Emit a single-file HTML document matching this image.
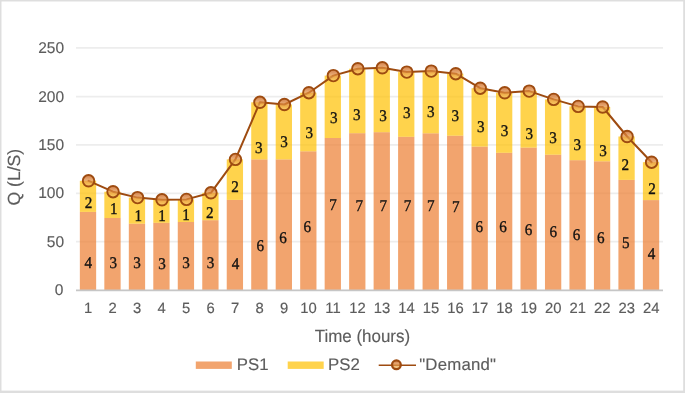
<!DOCTYPE html>
<html lang="en"><head><meta charset="utf-8"><title>Chart</title>
<style>html,body{margin:0;padding:0;background:#fff}body{width:685px;height:393px;overflow:hidden}svg{display:block}text{text-rendering:geometricPrecision}.t{font-family:"Liberation Sans",Arial,sans-serif;fill:#5c5c5c;stroke:#5c5c5c;stroke-width:0.15px}.s{font-family:"Liberation Serif","Times New Roman",serif;fill:#111;font-size:16.3px;text-anchor:middle;stroke:#111;stroke-width:0.35px}</style></head><body>
<svg width="685" height="393" viewBox="0 0 685 393">
<defs><linearGradient id="mg" x1="0" y1="0" x2="0" y2="1"><stop offset="0" stop-color="#c8662a" stop-opacity="0.85"/><stop offset="0.45" stop-color="#e08a3c" stop-opacity="0.7"/><stop offset="1" stop-color="#fbd070" stop-opacity="0.75"/></linearGradient></defs>
<rect x="0" y="0" width="685" height="393" fill="#dedede"/>
<rect x="1.5" y="1.5" width="681.7" height="389.1" fill="#ffffff"/>
<line x1="76" y1="47.9" x2="663" y2="47.9" stroke="#ededed" stroke-width="1.7"/>
<line x1="76" y1="96.6" x2="663" y2="96.6" stroke="#ededed" stroke-width="1.7"/>
<line x1="76" y1="144.8" x2="663" y2="144.8" stroke="#ededed" stroke-width="1.7"/>
<line x1="76" y1="193.4" x2="663" y2="193.4" stroke="#ededed" stroke-width="1.7"/>
<line x1="76" y1="241.7" x2="663" y2="241.7" stroke="#ededed" stroke-width="1.7"/>
<rect x="79.85" y="211.9" width="16.3" height="78.5" fill="#ed7d31" fill-opacity="0.7"/>
<rect x="79.85" y="180.8" width="16.3" height="31.1" fill="#ffc000" fill-opacity="0.7"/>
<rect x="104.33" y="218.0" width="16.3" height="72.4" fill="#ed7d31" fill-opacity="0.7"/>
<rect x="104.33" y="191.7" width="16.3" height="26.3" fill="#ffc000" fill-opacity="0.7"/>
<rect x="128.81" y="223.7" width="16.3" height="66.7" fill="#ed7d31" fill-opacity="0.7"/>
<rect x="128.81" y="197.6" width="16.3" height="26.1" fill="#ffc000" fill-opacity="0.7"/>
<rect x="153.29" y="222.8" width="16.3" height="67.6" fill="#ed7d31" fill-opacity="0.7"/>
<rect x="153.29" y="199.8" width="16.3" height="23.0" fill="#ffc000" fill-opacity="0.7"/>
<rect x="177.77" y="222.0" width="16.3" height="68.4" fill="#ed7d31" fill-opacity="0.7"/>
<rect x="177.77" y="199.4" width="16.3" height="22.6" fill="#ffc000" fill-opacity="0.7"/>
<rect x="202.25" y="220.2" width="16.3" height="70.2" fill="#ed7d31" fill-opacity="0.7"/>
<rect x="202.25" y="192.8" width="16.3" height="27.4" fill="#ffc000" fill-opacity="0.7"/>
<rect x="226.73" y="199.9" width="16.3" height="90.5" fill="#ed7d31" fill-opacity="0.7"/>
<rect x="226.73" y="159.4" width="16.3" height="40.5" fill="#ffc000" fill-opacity="0.7"/>
<rect x="251.21" y="159.4" width="16.3" height="131.0" fill="#ed7d31" fill-opacity="0.7"/>
<rect x="251.21" y="102.3" width="16.3" height="57.1" fill="#ffc000" fill-opacity="0.7"/>
<rect x="275.69" y="159.4" width="16.3" height="131.0" fill="#ed7d31" fill-opacity="0.7"/>
<rect x="275.69" y="104.5" width="16.3" height="54.9" fill="#ffc000" fill-opacity="0.7"/>
<rect x="300.17" y="151.3" width="16.3" height="139.1" fill="#ed7d31" fill-opacity="0.7"/>
<rect x="300.17" y="92.7" width="16.3" height="58.6" fill="#ffc000" fill-opacity="0.7"/>
<rect x="324.65" y="138.0" width="16.3" height="152.4" fill="#ed7d31" fill-opacity="0.7"/>
<rect x="324.65" y="75.6" width="16.3" height="62.4" fill="#ffc000" fill-opacity="0.7"/>
<rect x="349.13" y="133.2" width="16.3" height="157.2" fill="#ed7d31" fill-opacity="0.7"/>
<rect x="349.13" y="68.7" width="16.3" height="64.5" fill="#ffc000" fill-opacity="0.7"/>
<rect x="373.61" y="132.2" width="16.3" height="158.2" fill="#ed7d31" fill-opacity="0.7"/>
<rect x="373.61" y="67.8" width="16.3" height="64.4" fill="#ffc000" fill-opacity="0.7"/>
<rect x="398.09" y="136.8" width="16.3" height="153.6" fill="#ed7d31" fill-opacity="0.7"/>
<rect x="398.09" y="72.1" width="16.3" height="64.7" fill="#ffc000" fill-opacity="0.7"/>
<rect x="422.57" y="133.3" width="16.3" height="157.1" fill="#ed7d31" fill-opacity="0.7"/>
<rect x="422.57" y="71.1" width="16.3" height="62.2" fill="#ffc000" fill-opacity="0.7"/>
<rect x="447.05" y="135.7" width="16.3" height="154.7" fill="#ed7d31" fill-opacity="0.7"/>
<rect x="447.05" y="73.7" width="16.3" height="62.0" fill="#ffc000" fill-opacity="0.7"/>
<rect x="471.53" y="146.6" width="16.3" height="143.8" fill="#ed7d31" fill-opacity="0.7"/>
<rect x="471.53" y="88.2" width="16.3" height="58.4" fill="#ffc000" fill-opacity="0.7"/>
<rect x="496.01" y="152.8" width="16.3" height="137.6" fill="#ed7d31" fill-opacity="0.7"/>
<rect x="496.01" y="92.8" width="16.3" height="60.0" fill="#ffc000" fill-opacity="0.7"/>
<rect x="520.49" y="147.6" width="16.3" height="142.8" fill="#ed7d31" fill-opacity="0.7"/>
<rect x="520.49" y="91.1" width="16.3" height="56.5" fill="#ffc000" fill-opacity="0.7"/>
<rect x="544.97" y="154.7" width="16.3" height="135.7" fill="#ed7d31" fill-opacity="0.7"/>
<rect x="544.97" y="99.4" width="16.3" height="55.3" fill="#ffc000" fill-opacity="0.7"/>
<rect x="569.45" y="160.2" width="16.3" height="130.2" fill="#ed7d31" fill-opacity="0.7"/>
<rect x="569.45" y="106.4" width="16.3" height="53.8" fill="#ffc000" fill-opacity="0.7"/>
<rect x="593.93" y="161.3" width="16.3" height="129.1" fill="#ed7d31" fill-opacity="0.7"/>
<rect x="593.93" y="107.0" width="16.3" height="54.3" fill="#ffc000" fill-opacity="0.7"/>
<rect x="618.41" y="179.9" width="16.3" height="110.5" fill="#ed7d31" fill-opacity="0.7"/>
<rect x="618.41" y="136.5" width="16.3" height="43.4" fill="#ffc000" fill-opacity="0.7"/>
<rect x="642.89" y="200.1" width="16.3" height="90.3" fill="#ed7d31" fill-opacity="0.7"/>
<rect x="642.89" y="162.2" width="16.3" height="37.9" fill="#ffc000" fill-opacity="0.7"/>
<line x1="76" y1="290.35" x2="663" y2="290.35" stroke="#c6c6c6" stroke-width="1.6"/>
<text class="s" transform="translate(88.6,207.90) scale(0.93,1)">2</text>
<text class="s" transform="translate(113.8,214.10) scale(0.93,1)">1</text>
<text class="s" transform="translate(138.3,221.30) scale(0.93,1)">1</text>
<text class="s" transform="translate(162.0,221.30) scale(0.93,1)">1</text>
<text class="s" transform="translate(186.0,219.50) scale(0.93,1)">1</text>
<text class="s" transform="translate(209.7,218.40) scale(0.93,1)">2</text>
<text class="s" transform="translate(235.1,191.60) scale(0.93,1)">2</text>
<text class="s" transform="translate(258.8,152.80) scale(0.93,1)">3</text>
<text class="s" transform="translate(284.0,147.30) scale(0.93,1)">3</text>
<text class="s" transform="translate(309.2,137.50) scale(0.93,1)">3</text>
<text class="s" transform="translate(333.9,122.70) scale(0.93,1)">3</text>
<text class="s" transform="translate(356.9,120.10) scale(0.93,1)">3</text>
<text class="s" transform="translate(383.1,121.40) scale(0.93,1)">3</text>
<text class="s" transform="translate(406.8,117.70) scale(0.93,1)">3</text>
<text class="s" transform="translate(430.9,116.60) scale(0.93,1)">3</text>
<text class="s" transform="translate(455.4,121.40) scale(0.93,1)">3</text>
<text class="s" transform="translate(480.7,132.40) scale(0.93,1)">3</text>
<text class="s" transform="translate(504.5,135.80) scale(0.93,1)">3</text>
<text class="s" transform="translate(529.2,138.80) scale(0.93,1)">3</text>
<text class="s" transform="translate(553.1,143.20) scale(0.93,1)">3</text>
<text class="s" transform="translate(577.2,149.80) scale(0.93,1)">3</text>
<text class="s" transform="translate(603.0,155.80) scale(0.93,1)">3</text>
<text class="s" transform="translate(625.3,170.00) scale(0.93,1)">2</text>
<text class="s" transform="translate(652.1,193.60) scale(0.93,1)">2</text>
<text class="s" transform="translate(88.4,268.10) scale(0.93,1)">4</text>
<text class="s" transform="translate(113.3,268.40) scale(0.93,1)">3</text>
<text class="s" transform="translate(137.0,268.40) scale(0.93,1)">3</text>
<text class="s" transform="translate(162.0,269.00) scale(0.93,1)">3</text>
<text class="s" transform="translate(186.1,268.20) scale(0.93,1)">3</text>
<text class="s" transform="translate(210.5,267.60) scale(0.93,1)">3</text>
<text class="s" transform="translate(235.6,269.30) scale(0.93,1)">4</text>
<text class="s" transform="translate(260.2,250.50) scale(0.93,1)">6</text>
<text class="s" transform="translate(283.1,243.40) scale(0.93,1)">6</text>
<text class="s" transform="translate(307.2,232.10) scale(0.93,1)">6</text>
<text class="s" transform="translate(333.0,209.80) scale(0.93,1)">7</text>
<text class="s" transform="translate(359.3,210.60) scale(0.93,1)">7</text>
<text class="s" transform="translate(383.4,210.60) scale(0.93,1)">7</text>
<text class="s" transform="translate(407.6,210.60) scale(0.93,1)">7</text>
<text class="s" transform="translate(430.7,210.60) scale(0.93,1)">7</text>
<text class="s" transform="translate(455.7,211.90) scale(0.93,1)">7</text>
<text class="s" transform="translate(479.3,231.60) scale(0.93,1)">6</text>
<text class="s" transform="translate(503.0,232.40) scale(0.93,1)">6</text>
<text class="s" transform="translate(528.5,235.10) scale(0.93,1)">6</text>
<text class="s" transform="translate(553.2,237.10) scale(0.93,1)">6</text>
<text class="s" transform="translate(576.5,239.50) scale(0.93,1)">6</text>
<text class="s" transform="translate(600.9,242.90) scale(0.93,1)">6</text>
<text class="s" transform="translate(625.9,248.10) scale(0.93,1)">5</text>
<text class="s" transform="translate(651.6,259.20) scale(0.93,1)">4</text>
<path d="M88.55,180.80 C88.55,180.80 113.03,191.70 113.03,191.70 C113.03,191.70 137.51,197.60 137.51,197.60 C137.51,197.60 161.99,199.80 161.99,199.80 C161.99,199.80 186.47,199.40 186.47,199.40 C186.47,199.40 210.95,192.80 210.95,192.80 C210.95,192.80 235.43,159.40 235.43,159.40 C235.43,159.40 259.91,102.30 259.91,102.30 C259.91,102.30 284.39,104.50 284.39,104.50 C284.39,104.50 308.87,92.70 308.87,92.70 C308.87,92.70 333.35,75.60 333.35,75.60 C333.35,75.60 357.83,68.70 357.83,68.70 C357.83,68.70 382.31,67.80 382.31,67.80 C382.31,67.80 406.79,72.10 406.79,72.10 C406.79,72.10 431.27,71.10 431.27,71.10 C431.27,71.10 455.75,73.70 455.75,73.70 C455.75,73.70 480.23,88.20 480.23,88.20 C480.23,88.20 504.71,92.80 504.71,92.80 C504.71,92.80 529.19,91.10 529.19,91.10 C529.19,91.10 553.67,99.40 553.67,99.40 C553.67,99.40 578.15,106.40 578.15,106.40 C578.15,106.40 602.63,107.00 602.63,107.00 C602.63,107.00 627.11,136.50 627.11,136.50 C627.11,136.50 651.59,162.20 651.59,162.20" fill="none" stroke="#9e4b10" stroke-width="2.0" stroke-linecap="round" stroke-linejoin="round"/>
<circle cx="88.55" cy="180.80" r="5.75" fill="url(#mg)" stroke="#9e4b10" stroke-width="1.9"/>
<circle cx="113.03" cy="191.70" r="5.75" fill="url(#mg)" stroke="#9e4b10" stroke-width="1.9"/>
<circle cx="137.51" cy="197.60" r="5.75" fill="url(#mg)" stroke="#9e4b10" stroke-width="1.9"/>
<circle cx="161.99" cy="199.80" r="5.75" fill="url(#mg)" stroke="#9e4b10" stroke-width="1.9"/>
<circle cx="186.47" cy="199.40" r="5.75" fill="url(#mg)" stroke="#9e4b10" stroke-width="1.9"/>
<circle cx="210.95" cy="192.80" r="5.75" fill="url(#mg)" stroke="#9e4b10" stroke-width="1.9"/>
<circle cx="235.43" cy="159.40" r="5.75" fill="url(#mg)" stroke="#9e4b10" stroke-width="1.9"/>
<circle cx="259.91" cy="102.30" r="5.75" fill="url(#mg)" stroke="#9e4b10" stroke-width="1.9"/>
<circle cx="284.39" cy="104.50" r="5.75" fill="url(#mg)" stroke="#9e4b10" stroke-width="1.9"/>
<circle cx="308.87" cy="92.70" r="5.75" fill="url(#mg)" stroke="#9e4b10" stroke-width="1.9"/>
<circle cx="333.35" cy="75.60" r="5.75" fill="url(#mg)" stroke="#9e4b10" stroke-width="1.9"/>
<circle cx="357.83" cy="68.70" r="5.75" fill="url(#mg)" stroke="#9e4b10" stroke-width="1.9"/>
<circle cx="382.31" cy="67.80" r="5.75" fill="url(#mg)" stroke="#9e4b10" stroke-width="1.9"/>
<circle cx="406.79" cy="72.10" r="5.75" fill="url(#mg)" stroke="#9e4b10" stroke-width="1.9"/>
<circle cx="431.27" cy="71.10" r="5.75" fill="url(#mg)" stroke="#9e4b10" stroke-width="1.9"/>
<circle cx="455.75" cy="73.70" r="5.75" fill="url(#mg)" stroke="#9e4b10" stroke-width="1.9"/>
<circle cx="480.23" cy="88.20" r="5.75" fill="url(#mg)" stroke="#9e4b10" stroke-width="1.9"/>
<circle cx="504.71" cy="92.80" r="5.75" fill="url(#mg)" stroke="#9e4b10" stroke-width="1.9"/>
<circle cx="529.19" cy="91.10" r="5.75" fill="url(#mg)" stroke="#9e4b10" stroke-width="1.9"/>
<circle cx="553.67" cy="99.40" r="5.75" fill="url(#mg)" stroke="#9e4b10" stroke-width="1.9"/>
<circle cx="578.15" cy="106.40" r="5.75" fill="url(#mg)" stroke="#9e4b10" stroke-width="1.9"/>
<circle cx="602.63" cy="107.00" r="5.75" fill="url(#mg)" stroke="#9e4b10" stroke-width="1.9"/>
<circle cx="627.11" cy="136.50" r="5.75" fill="url(#mg)" stroke="#9e4b10" stroke-width="1.9"/>
<circle cx="651.59" cy="162.20" r="5.75" fill="url(#mg)" stroke="#9e4b10" stroke-width="1.9"/>
<text class="t" x="64.1" y="52.90" font-size="15.5" text-anchor="end">250</text>
<text class="t" x="64.1" y="101.50" font-size="15.5" text-anchor="end">200</text>
<text class="t" x="64.1" y="149.80" font-size="15.5" text-anchor="end">150</text>
<text class="t" x="64.1" y="198.30" font-size="15.5" text-anchor="end">100</text>
<text class="t" x="64.1" y="246.70" font-size="15.5" text-anchor="end">50</text>
<text class="t" x="63.3" y="295.10" font-size="15.5" text-anchor="end">0</text>
<text class="t" x="88.2" y="312.8" font-size="14.8" text-anchor="middle">1</text>
<text class="t" x="112.7" y="312.8" font-size="14.8" text-anchor="middle">2</text>
<text class="t" x="137.2" y="312.8" font-size="14.8" text-anchor="middle">3</text>
<text class="t" x="161.6" y="312.8" font-size="14.8" text-anchor="middle">4</text>
<text class="t" x="186.1" y="312.8" font-size="14.8" text-anchor="middle">5</text>
<text class="t" x="210.6" y="312.8" font-size="14.8" text-anchor="middle">6</text>
<text class="t" x="235.1" y="312.8" font-size="14.8" text-anchor="middle">7</text>
<text class="t" x="259.6" y="312.8" font-size="14.8" text-anchor="middle">8</text>
<text class="t" x="284.0" y="312.8" font-size="14.8" text-anchor="middle">9</text>
<text class="t" x="308.5" y="312.8" font-size="14.8" text-anchor="middle">10</text>
<text class="t" x="333.0" y="312.8" font-size="14.8" text-anchor="middle">11</text>
<text class="t" x="357.5" y="312.8" font-size="14.8" text-anchor="middle">12</text>
<text class="t" x="382.0" y="312.8" font-size="14.8" text-anchor="middle">13</text>
<text class="t" x="406.4" y="312.8" font-size="14.8" text-anchor="middle">14</text>
<text class="t" x="430.9" y="312.8" font-size="14.8" text-anchor="middle">15</text>
<text class="t" x="455.4" y="312.8" font-size="14.8" text-anchor="middle">16</text>
<text class="t" x="479.9" y="312.8" font-size="14.8" text-anchor="middle">17</text>
<text class="t" x="504.4" y="312.8" font-size="14.8" text-anchor="middle">18</text>
<text class="t" x="528.8" y="312.8" font-size="14.8" text-anchor="middle">19</text>
<text class="t" x="553.3" y="312.8" font-size="14.8" text-anchor="middle">20</text>
<text class="t" x="577.8" y="312.8" font-size="14.8" text-anchor="middle">21</text>
<text class="t" x="602.3" y="312.8" font-size="14.8" text-anchor="middle">22</text>
<text class="t" x="626.8" y="312.8" font-size="14.8" text-anchor="middle">23</text>
<text class="t" x="651.2" y="312.8" font-size="14.8" text-anchor="middle">24</text>
<text class="t" transform="translate(362.4,341.5) scale(0.963,1)" font-size="17.6" text-anchor="middle">Time (hours)</text>
<text class="t" transform="translate(19.8,177.2) rotate(-90)" font-size="17.6" text-anchor="middle">Q (L/S)</text>
<rect x="195.8" y="361.5" width="36" height="7.4" fill="#ed7d31" fill-opacity="0.7"/>
<text class="t" x="236.8" y="370.3" font-size="16.8">PS1</text>
<rect x="287.7" y="361.5" width="36" height="7.4" fill="#ffc000" fill-opacity="0.7"/>
<text class="t" x="328" y="370.3" font-size="16.8">PS2</text>
<line x1="378.7" y1="365.2" x2="416" y2="365.2" stroke="#9e4b10" stroke-width="1.6"/>
<circle cx="396.4" cy="364.8" r="4.35" fill="url(#mg)" stroke="#9e4b10" stroke-width="2.3"/>
<text class="t" x="419.2" y="370.3" font-size="16.8" letter-spacing="0.2">"Demand"</text>
</svg></body></html>
